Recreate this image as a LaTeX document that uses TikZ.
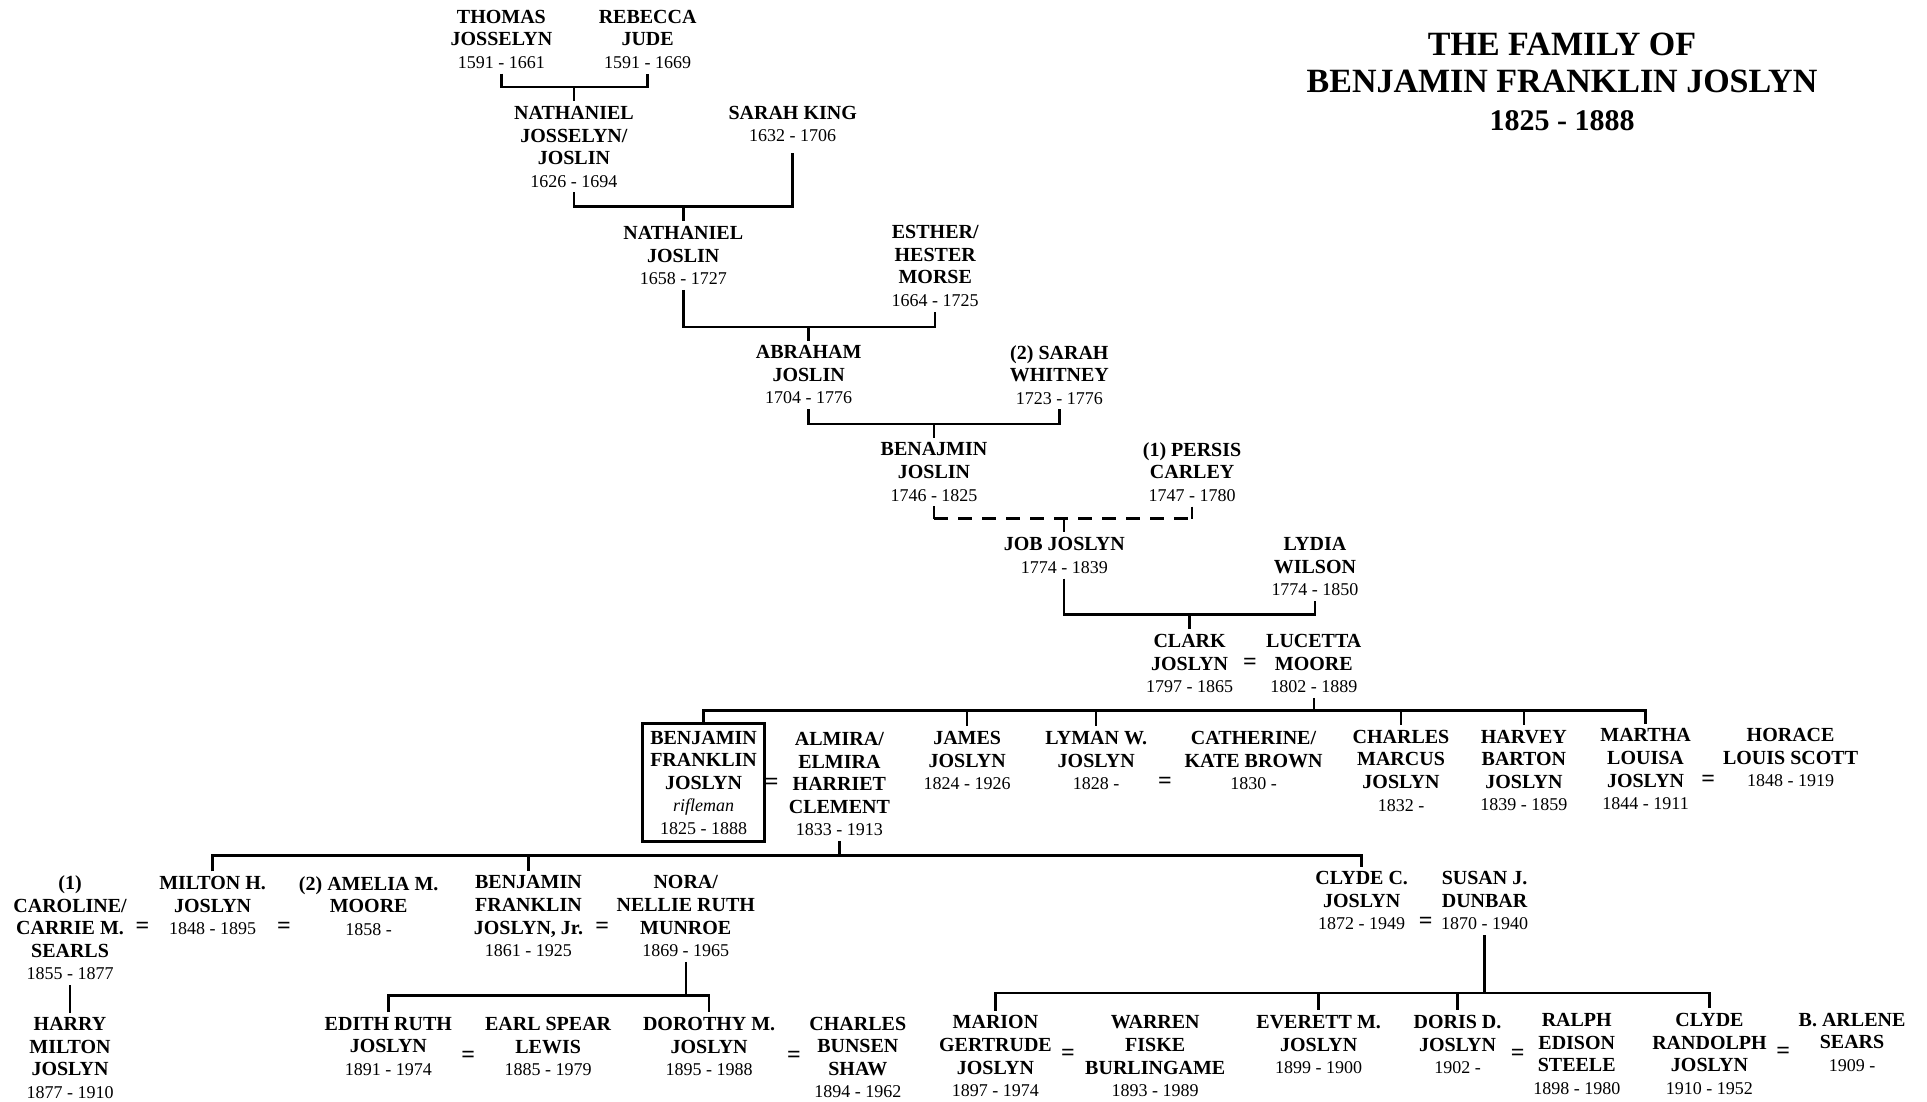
\documentclass[tikz,border=0pt]{standalone}
\usepackage{fontspec}
\setmainfont{Liberation Serif}
\newcommand{\yr}[1]{{\fontsize{9}{11.3}\selectfont\mdseries #1}}
\begin{document}
\begin{tikzpicture}[x=0.6145pt,y=-0.6145pt,
  pp/.style={align=center, inner sep=0pt, outer sep=2.5pt, font=\fontsize{10}{11.3}\selectfont\bfseries},
  bx/.style={pp, draw, line width=1.5pt, inner xsep=4pt, inner ysep=3.5pt, outer sep=0pt},
  eqs/.style={inner sep=0pt, font=\fontsize{12}{12}\selectfont\bfseries},
  ttl/.style={align=center, inner sep=0pt, font=\fontsize{17}{18.7}\selectfont\bfseries},
  ln/.style={line width=1.2pt},
  dsh/.style={line width=1.2pt, dash pattern=on 7pt off 5pt}]
\useasboundingbox (0,0) rectangle (1568,896);

% title
\node[ttl] (title) at (1271,66.5) {THE FAMILY OF\\BENJAMIN FRANKLIN JOSLYN\\{\fontsize{15}{18.7}\selectfont 1825 - 1888}};

% row 1
\node[pp] (thomas) at (408,32) {THOMAS\\JOSSELYN\\\yr{1591 - 1661}};
\node[pp] (rebecca) at (527,32) {REBECCA\\JUDE\\\yr{1591 - 1669}};
% row 2
\node[pp] (nath1) at (467,119.5) {NATHANIEL\\JOSSELYN/\\JOSLIN\\\yr{1626 - 1694}};
\node[pp] (sarahk) at (645,101) {SARAH KING\\\yr{1632 - 1706}};
% row 3
\node[pp] (nath2) at (556,208) {NATHANIEL\\JOSLIN\\\yr{1658 - 1727}};
\node[pp] (esther) at (761,216.5) {ESTHER/\\HESTER\\MORSE\\\yr{1664 - 1725}};
% row 4
\node[pp] (abraham) at (658,305) {ABRAHAM\\JOSLIN\\\yr{1704 - 1776}};
\node[pp] (sarahw) at (862,305) {(2) SARAH\\WHITNEY\\\yr{1723 - 1776}};
% row 5
\node[pp] (benj) at (760,384) {BENAJMIN\\JOSLIN\\\yr{1746 - 1825}};
\node[pp] (persis) at (970,384) {(1) PERSIS\\CARLEY\\\yr{1747 - 1780}};
% row 6
\node[pp] (job) at (866,452) {JOB JOSLYN\\\yr{1774 - 1839}};
\node[pp] (lydia) at (1070,461) {LYDIA\\WILSON\\\yr{1774 - 1850}};
% row 7
\node[pp] (clark) at (968,540) {CLARK\\JOSLYN\\\yr{1797 - 1865}};
\node[eqs] (e1) at (1017,540) {=};
\node[pp] (lucetta) at (1069,540) {LUCETTA\\MOORE\\\yr{1802 - 1889}};
% row 8
\node[bx] (bfj) at (572.5,637) {BENJAMIN\\FRANKLIN\\JOSLYN\\{\fontsize{9}{11.3}\selectfont\mdseries\itshape rifleman}\\\yr{1825 - 1888}};
\node[eqs] (e2) at (628,638) {=};
\node[pp] (almira) at (683,638) {ALMIRA/\\ELMIRA\\HARRIET\\CLEMENT\\\yr{1833 - 1913}};
\node[pp] (james) at (787,619) {JAMES\\JOSLYN\\\yr{1824 - 1926}};
\node[pp] (lyman) at (892,619) {LYMAN W.\\JOSLYN\\\yr{1828 -}};
\node[eqs] (e3) at (948,637) {=};
\node[pp] (catherine) at (1020,619) {CATHERINE/\\KATE BROWN\\\yr{1830 -}};
\node[pp] (charles) at (1140,627) {CHARLES\\MARCUS\\JOSLYN\\\yr{1832 -}};
\node[pp] (harvey) at (1240,627) {HARVEY\\BARTON\\JOSLYN\\\yr{1839 - 1859}};
\node[pp] (martha) at (1339,626) {MARTHA\\LOUISA\\JOSLYN\\\yr{1844 - 1911}};
\node[eqs] (e4) at (1390,635) {=};
\node[pp] (horace) at (1457,616.5) {HORACE\\LOUIS SCOTT\\\yr{1848 - 1919}};
% row 9
\node[pp] (caroline) at (57,755) {(1)\\CAROLINE/\\CARRIE M.\\SEARLS\\\yr{1855 - 1877}};
\node[eqs] (e5) at (116,755) {=};
\node[pp] (milton) at (173,737) {MILTON H.\\JOSLYN\\\yr{1848 - 1895}};
\node[eqs] (e6) at (231,755) {=};
\node[pp] (amelia) at (300,737) {(2) AMELIA M.\\MOORE\\\yr{1858 -}};
\node[pp] (bfjjr) at (430,745.5) {BENJAMIN\\FRANKLIN\\JOSLYN, Jr.\\\yr{1861 - 1925}};
\node[eqs] (e7) at (490,755) {=};
\node[pp] (nora) at (558,745.5) {NORA/\\NELLIE RUTH\\MUNROE\\\yr{1869 - 1965}};
\node[pp] (clydec) at (1108,733) {CLYDE C.\\JOSLYN\\\yr{1872 - 1949}};
\node[eqs] (e8) at (1160,751) {=};
\node[pp] (susan) at (1208,733) {SUSAN J.\\DUNBAR\\\yr{1870 - 1940}};
% row 10
\node[pp] (harry) at (57,861) {HARRY\\MILTON\\JOSLYN\\\yr{1877 - 1910}};
\node[pp] (edith) at (316,851.5) {EDITH RUTH\\JOSLYN\\\yr{1891 - 1974}};
\node[eqs] (e9) at (381,860) {=};
\node[pp] (earl) at (446,851.5) {EARL SPEAR\\LEWIS\\\yr{1885 - 1979}};
\node[pp] (dorothy) at (577,851.5) {DOROTHY M.\\JOSLYN\\\yr{1895 - 1988}};
\node[eqs] (e10) at (646,860) {=};
\node[pp] (charlesb) at (698,860.5) {CHARLES\\BUNSEN\\SHAW\\\yr{1894 - 1962}};
\node[pp] (marion) at (810,859.5) {MARION\\GERTRUDE\\JOSLYN\\\yr{1897 - 1974}};
\node[eqs] (e11) at (869,858) {=};
\node[pp] (warren) at (940,859.5) {WARREN\\FISKE\\BURLINGAME\\\yr{1893 - 1989}};
\node[pp] (everett) at (1073,850) {EVERETT M.\\JOSLYN\\\yr{1899 - 1900}};
\node[pp] (doris) at (1186,850) {DORIS D.\\JOSLYN\\\yr{1902 -}};
\node[eqs] (e12) at (1235,858) {=};
\node[pp] (ralph) at (1283,857.5) {RALPH\\EDISON\\STEELE\\\yr{1898 - 1980}};
\node[pp] (clyder) at (1391,857.5) {CLYDE\\RANDOLPH\\JOSLYN\\\yr{1910 - 1952}};
\node[eqs] (e13) at (1451,857) {=};
\node[pp] (arlene) at (1507,848) {B. ARLENE\\SEARS\\\yr{1909 -}};

% junctions
\coordinate (j1) at (467,71);
\coordinate (j2) at (556,168);
\coordinate (j3) at (658,266);
\coordinate (j4) at (760,345);
\coordinate (j5) at (866,422);
\coordinate (j6) at (968,500);
\coordinate (j7) at (1069,578);
\coordinate (j8) at (683,696);
\coordinate (j9) at (558,810);
\coordinate (j10) at (1208,808);

% couple brackets
\draw[ln] (thomas.south) -- (thomas.south |- j1) -- (rebecca.south |- j1) -- (rebecca.south);
\draw[ln] (j1) -- (j1 |- nath1.north);
\draw[ln] (nath1.south) -- (nath1.south |- j2) -- (sarahk.south |- j2) -- ([yshift=-3pt]sarahk.south);
\draw[ln] (j2) -- (j2 |- nath2.north);
\draw[ln] (nath2.south) -- (nath2.south |- j3) -- (esther.south |- j3) -- (esther.south);
\draw[ln] (j3) -- (j3 |- abraham.north);
\draw[ln] (abraham.south) -- (abraham.south |- j4) -- (sarahw.south |- j4) -- (sarahw.south);
\draw[ln] (j4) -- (j4 |- benj.north);
\draw[ln] (benj.south) -- (benj.south |- j5);
\draw[ln] (persis.south) -- (persis.south |- j5);
\draw[dsh] (benj.south |- j5) -- (persis.south |- j5);
\draw[ln] (j5) -- (j5 |- job.north);
\draw[ln] (job.south) -- (job.south |- j6) -- (lydia.south |- j6) -- (lydia.south);
\draw[ln] (j6) -- (j6 |- clark.north);

% children of Clark and Lucetta
\draw[ln] (lucetta.south) -- (j7);
\draw[ln] (bfj.north) -- (bfj.north |- j7) -- (martha.north |- j7) -- (martha.north);
\foreach \c in {james,lyman,charles,harvey} \draw[ln] (\c.north |- j7) -- (\c.north);

% children of BFJ and Almira
\draw[ln] (almira.south) -- (j8);
\draw[ln] (milton.north) -- (milton.north |- j8) -- (clydec.north |- j8) -- (clydec.north);
\draw[ln] (bfjjr.north |- j8) -- (bfjjr.north);

% Caroline -> Harry
\draw[ln] (caroline.south) -- (harry.north);

% children of BFJ Jr and Nora
\draw[ln] (nora.south) -- (j9);
\draw[ln] (edith.north) -- (edith.north |- j9) -- (dorothy.north |- j9) -- (dorothy.north);

% children of Clyde C. and Susan
\draw[ln] (susan.south) -- (j10);
\draw[ln] (marion.north) -- (marion.north |- j10) -- (clyder.north |- j10) -- (clyder.north);
\foreach \c in {everett,doris} \draw[ln] (\c.north |- j10) -- (\c.north);
\end{tikzpicture}
\end{document}
